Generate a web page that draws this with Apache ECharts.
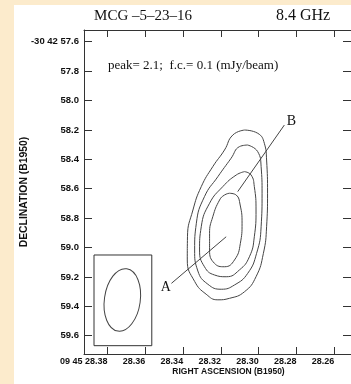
<!DOCTYPE html>
<html>
    <head>
        <title></title>
        <meta charset="UTF-8">
        <style>
            html, body { margin: 0; padding: 0; background: #fcebcc; }
            #panel {
                position: absolute;
                left: 14px;
                top: 5px;
                right: 0;
                bottom: 0;
                background: #ffffff;
            }
            #main {
                position: absolute;
                left: 0;
                top: 0;
                width: 351px;
                height: 384px;
            }
        </style>
        <script src="https://cdn.jsdelivr.net/npm/echarts@6/dist/echarts.min.js"></script>
    </head>
    <body>
        <div id="panel"></div>
        <div id="main"></div>
    </body>
    <script>
        // ticks
        var xTickValues = [28.38, 28.36, 28.34, 28.32, 28.30, 28.28, 28.26];
        var xTickLabels = ['09 45 28.38', '28.36', '28.34', '28.32', '28.30', '28.28', '28.26'];
        var yTickValues = [57.6, 57.8, 58.0, 58.2, 58.4, 58.6, 58.8, 59.0, 59.2, 59.4, 59.6];
        var yTickLabels = ['-30 42 57.6', '57.8', '58.0', '58.2', '58.4', '58.6', '58.8', '59.0', '59.2', '59.4', '59.6'];

        // contours [RA sec, Dec arcsec], outer to inner
        var contour1 = [[28.3075, 58.201], [28.3005, 58.223], [28.2970, 58.291], [28.2958, 58.405], [28.2953, 58.631],
            [28.2958, 58.859], [28.2975, 59.040], [28.3014, 59.199], [28.3075, 59.301], [28.3155, 59.346],
            [28.3216, 59.356], [28.3278, 59.318], [28.3339, 59.231], [28.3378, 59.085], [28.3377, 58.927],
            [28.3348, 58.745], [28.3304, 58.586], [28.3243, 58.450], [28.3181, 58.337], [28.3137, 58.235]];
        var contour2 = [[28.3058, 58.303], [28.3005, 58.348], [28.2987, 58.450], [28.2982, 58.631], [28.2987, 58.859],
            [28.3011, 59.040], [28.3058, 59.176], [28.3128, 59.255], [28.3198, 59.284], [28.3269, 59.250],
            [28.3322, 59.160], [28.3339, 59.017], [28.3330, 58.835], [28.3287, 58.654], [28.3216, 58.518],
            [28.3146, 58.393], [28.3102, 58.314]];
        var contour3 = [[28.3075, 58.484], [28.3040, 58.507], [28.3023, 58.586], [28.3014, 58.745], [28.3023, 58.927],
            [28.3049, 59.063], [28.3102, 59.153], [28.3172, 59.199], [28.3234, 59.187], [28.3287, 59.131],
            [28.3313, 59.017], [28.3304, 58.859], [28.3260, 58.699], [28.3190, 58.586], [28.3119, 58.507]];
        var contour4 = [[28.3155, 58.631], [28.3119, 58.643], [28.3098, 58.711], [28.3088, 58.835], [28.3097, 58.972],
            [28.3128, 59.085], [28.3181, 59.131], [28.3234, 59.108], [28.3260, 59.017], [28.3260, 58.904],
            [28.3243, 58.791], [28.3207, 58.677], [28.3181, 58.643]];

        // component labels and their pointers
        var leaderA = [[28.3462, 59.244], [28.3172, 58.927]];
        var leaderB = [[28.2864, 58.167], [28.3111, 58.620]];
        var componentNames = ['A', 'B'];
        var componentPos = [[28.3492, 59.269], [28.2827, 58.140]];

        // beam inset: box corners, ellipse centre, semi-axes, tilt (deg)
        var beamBox = [28.3872, 59.051, 28.3566, 59.668];
        var beamCenter = [28.3722, 59.357];
        var beamSemi = [0.0095, 0.214];
        var beamTilt = 8;

        var lineColor = '#333';
        var tickFont = { color: '#111', fontFamily: 'Liberation Sans', fontWeight: 'bold', fontSize: 9.5 };
        var serif = { fontFamily: 'Liberation Serif', fontWeight: 'normal', color: '#111' };

        function closed(arr) {
            return arr.concat([arr[0]]);
        }

        function labelFor(values, labels) {
            return function (v) {
                for (var i = 0; i < values.length; i++) {
                    if (Math.abs(values[i] - v) < 1e-6) return labels[i];
                }
                return '';
            };
        }

        function contourSeries(data) {
            return {
                type: 'line',
                data: closed(data),
                smooth: 0.5,
                symbol: 'none',
                lineStyle: { color: '#444', width: 1 },
                silent: true
            };
        }

        function xAx(pos, show) {
            return {
                type: 'value',
                position: pos,
                min: 28.2511,
                max: 28.3925,
                inverse: true,
                splitLine: { show: false },
                axisLine: { show: true, onZero: false, lineStyle: { color: lineColor, width: 1 } },
                axisTick: { show: true, inside: true, length: 7, customValues: xTickValues, lineStyle: { color: lineColor } },
                axisLabel: show ? Object.assign({ customValues: xTickValues, margin: 3, align: 'right',
                    formatter: labelFor(xTickValues, xTickLabels) }, tickFont, { fontSize: 9 }) : { show: false },
                name: show ? 'RIGHT ASCENSION (B1950)' : '',
                nameLocation: 'middle',
                nameMoveOverlap: false,
                nameGap: 13,
                nameTextStyle: Object.assign({}, tickFont, { fontSize: 8.5, padding: [0, 0, 0, 22] })
            };
        }

        function yAx(pos, show) {
            return {
                type: 'value',
                position: pos,
                min: 57.5204,
                max: 59.7246,
                inverse: true,
                splitLine: { show: false },
                axisLine: { show: true, onZero: false, lineStyle: { color: lineColor, width: 1 } },
                axisTick: { show: true, inside: true, length: 8, customValues: yTickValues, lineStyle: { color: lineColor } },
                axisLabel: show ? Object.assign({ customValues: yTickValues, margin: 5,
                    formatter: labelFor(yTickValues, yTickLabels) }, tickFont) : { show: false },
                name: show ? 'DECLINATION (B1950)' : '',
                nameLocation: 'middle',
                nameMoveOverlap: false,
                nameGap: 55,
                nameTextStyle: Object.assign({}, tickFont, { fontSize: 10.4 })
            };
        }

        var chart = echarts.init(document.getElementById('main'));

        var option = {
            animation: false,
            title: [
                { text: 'MCG \u20135\u201323\u201316', right: 159, top: 9, padding: 0,
                  textStyle: Object.assign({ fontSize: 15 }, serif) },
                { text: '8.4 GHz', left: 276, top: 8, padding: 0,
                  textStyle: Object.assign({ fontSize: 16 }, serif) },
                { text: 'peak= 2.1;  f.c.= 0.1 (mJy/beam)', left: 108, top: 59, padding: 0,
                  textStyle: Object.assign({ fontSize: 13 }, serif) }
            ],
            grid: { left: 84, top: 30, width: 268, height: 324 },
            xAxis: [xAx('bottom', true), xAx('top', false)],
            yAxis: [yAx('left', true), yAx('right', false)],
            series: [
                contourSeries(contour1),
                contourSeries(contour2),
                contourSeries(contour3),
                contourSeries(contour4),
                { type: 'line', data: leaderA, symbol: 'none', lineStyle: { color: '#444', width: 1 } },
                { type: 'line', data: leaderB, symbol: 'none', lineStyle: { color: '#444', width: 1 } },
                {
                    type: 'custom',
                    data: componentPos.map(function (p, i) { return [p[0], p[1], i]; }),
                    renderItem: function (params, api) {
                        var p = api.coord([api.value(0), api.value(1)]);
                        return {
                            type: 'text',
                            x: p[0], y: p[1],
                            style: {
                                text: componentNames[api.value(2)],
                                fontFamily: 'Liberation Serif', fontSize: 14, fill: '#111',
                                align: 'center', verticalAlign: 'middle'
                            }
                        };
                    }
                },
                {
                    type: 'custom',
                    data: [beamBox],
                    renderItem: function (params, api) {
                        var a = api.coord([api.value(0), api.value(1)]);
                        var b = api.coord([api.value(2), api.value(3)]);
                        return {
                            type: 'rect',
                            shape: { x: Math.min(a[0], b[0]), y: Math.min(a[1], b[1]),
                                     width: Math.abs(b[0] - a[0]), height: Math.abs(b[1] - a[1]) },
                            style: { fill: 'none', stroke: lineColor, lineWidth: 1 }
                        };
                    }
                },
                {
                    type: 'custom',
                    data: [[beamCenter[0], beamCenter[1], beamSemi[0], beamSemi[1]]],
                    renderItem: function (params, api) {
                        var c = api.coord([api.value(0), api.value(1)]);
                        var s = api.size([api.value(2), api.value(3)]);
                        return {
                            type: 'ellipse',
                            x: c[0], y: c[1],
                            rotation: -beamTilt * Math.PI / 180,
                            shape: { cx: 0, cy: 0, rx: s[0], ry: s[1] },
                            style: { fill: 'none', stroke: '#444', lineWidth: 1 }
                        };
                    }
                }
            ]
        };

        chart.setOption(option);
    </script>
</html>
